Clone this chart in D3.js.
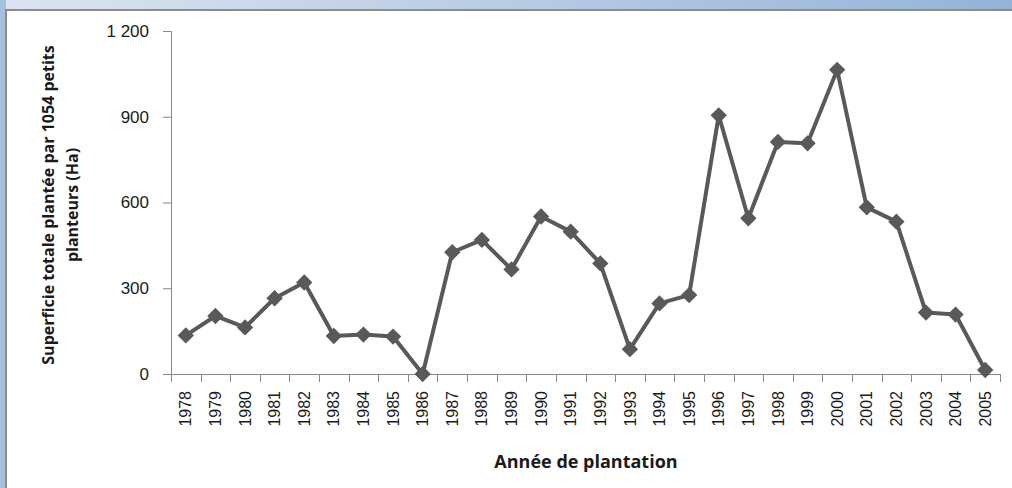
<!DOCTYPE html>
<html>
<head>
<meta charset="utf-8">
<script src="https://cdn.jsdelivr.net/npm/d3@7"></script>
<style>
  body { margin: 0; }
  svg { display: block; font-family: "Open Sans", "Lato", sans-serif; }
</style>
</head>
<body>
<div id="chart"></div>
<script>
const years = ["1978","1979","1980","1981","1982","1983","1984","1985","1986","1987",
  "1988","1989","1990","1991","1992","1993","1994","1995","1996","1997",
  "1998","1999","2000","2001","2002","2003","2004","2005"];
const surfaces = [135, 203, 163, 265, 320, 133, 138, 131, 0, 426,
  469, 366, 551, 498, 387, 87, 247, 276, 905, 545,
  812, 807, 1064, 583, 533, 215, 208, 14];
const yTicks = [0, 300, 600, 900, 1200];

function main() {
  const width = 1012, height = 488;
  const svg = d3.select("#chart").append("svg")
    .attr("width", width).attr("height", height);

  // background gradient + white panel
  const defs = svg.append("defs");
  const grad = defs.append("linearGradient").attr("id", "bg")
    .attr("x1", 0).attr("x2", 1).attr("y1", 0).attr("y2", 0);
  grad.append("stop").attr("offset", "0%").attr("stop-color", "#dbe5f1");
  grad.append("stop").attr("offset", "100%").attr("stop-color", "#95b3d7");
  svg.append("rect").attr("width", width).attr("height", height).attr("fill", "url(#bg)");
  svg.append("rect").attr("x", 0).attr("y", 0).attr("width", 6).attr("height", height).attr("fill", "#a8c0df");
  svg.append("rect").attr("x", 6).attr("y", 10).attr("width", width + 50).attr("height", height + 50)
    .attr("fill", "#fff").attr("stroke", "#8c8c8c").attr("stroke-width", 2);

  const x = d3.scaleBand().domain(years).range([171, 1000]);
  const y = d3.scaleLinear().domain([0, 1200]).range([374, 31]);

  // y axis
  const yAxis = svg.append("g").attr("transform", "translate(171,0)")
    .call(d3.axisLeft(y).tickValues(yTicks).tickSize(8).tickPadding(14)
      .tickFormat(d => d === 1200 ? "1 200" : d));
  yAxis.select(".domain").attr("stroke", "#868686").attr("d", "M-8,31.5H0.5V374.5");
  yAxis.selectAll(".tick line").attr("stroke", "#868686");
  yAxis.selectAll("text").attr("font-size", 17).attr("fill", "#1a1a1a");

  // x axis, ticks on category boundaries
  const xAxis = svg.append("g").attr("transform", "translate(0,374)")
    .call(d3.axisBottom(x).tickSize(0).tickSizeOuter(0));
  xAxis.select(".domain").attr("stroke", "#868686");
  xAxis.selectAll(".tick line").remove();
  xAxis.selectAll(".tick text")
    .attr("font-size", 16).attr("fill", "#1a1a1a")
    .attr("transform", "rotate(-90)")
    .attr("text-anchor", "end")
    .attr("x", -17).attr("y", 0).attr("dy", "0.35em");
  const bounds = years.map(d => x(d)).concat([x.range()[1]]);
  xAxis.selectAll(".bound").data(bounds).join("line")
    .attr("x1", d => Math.round(d) + 0.5).attr("x2", d => Math.round(d) + 0.5)
    .attr("y1", 0).attr("y2", 8).attr("stroke", "#868686");

  // line + markers
  const line = d3.line().x((d, i) => x(years[i]) + x.bandwidth() / 2).y(d => y(d));
  svg.append("path").datum(surfaces)
    .attr("d", line).attr("fill", "none")
    .attr("stroke", "#595959").attr("stroke-width", 4).attr("stroke-linejoin", "round");
  svg.append("g").selectAll("path").data(surfaces).join("path")
    .attr("d", d3.symbol(d3.symbolDiamond2, 170))
    .attr("transform", (d, i) => `translate(${x(years[i]) + x.bandwidth() / 2},${y(d)})`)
    .attr("fill", "#595959");

  // axis titles
  svg.append("text").attr("x", 586).attr("y", 468).attr("text-anchor", "middle")
    .attr("font-size", 18).attr("font-weight", "bold").attr("fill", "#1a1a1a")
    .text("Année de plantation");
  const yt = svg.append("text").attr("transform", "translate(0,205) rotate(-90)")
    .attr("text-anchor", "middle").attr("font-size", 16).attr("font-weight", "bold").attr("fill", "#1a1a1a");
  yt.append("tspan").attr("x", 0).attr("y", 54).text("Superficie totale plantée par 1054 petits");
  yt.append("tspan").attr("x", 0).attr("y", 78).text("planteurs (Ha)");
}
main();
</script>
</body>
</html>
